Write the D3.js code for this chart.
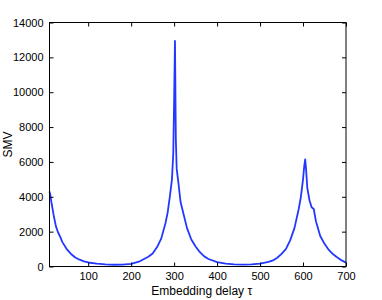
<!DOCTYPE html>
<html>
<head>
<meta charset="utf-8">
<script src="https://cdn.jsdelivr.net/npm/d3@7"></script>
<style>
  body { margin: 0; background: #fff; }
  text { font-family: "Liberation Sans", Arial, sans-serif; }
</style>
</head>
<body>
<script>
// embedding delay values (tau) and the SMV read at each one
var tau = [10, 12, 15, 20, 25, 30, 35, 40, 50, 60, 70, 80, 90, 100, 120, 140, 160, 180, 200,
    220, 240, 250, 260, 270, 280, 285, 290, 295, 298, 300, 302, 304, 306, 310, 315, 320, 330,
    340, 350, 360, 370, 380, 400, 420, 440, 460, 480, 500, 520, 530, 540, 550, 560, 570, 580,
    590, 595, 600, 603, 605, 607, 610, 615, 620, 625, 630, 640, 650, 660, 670, 680, 690, 700]
var smv = [4300, 4100, 3600, 2900, 2300, 1950, 1700, 1400, 1000, 720, 520, 390, 290, 230, 160, 120, 100, 110, 150,
    300, 560, 750, 1100, 1600, 2500, 3100, 4000, 5000, 6500, 9500, 12950, 7300, 5600, 4800, 3700, 3200, 2200,
    1550, 1150, 820, 580, 430, 250, 160, 120, 110, 120, 160, 260, 350, 500, 720, 1000, 1500, 2200,
    3300, 4000, 5000, 5800, 6150, 5600, 4500, 3800, 3400, 3300, 2600, 1750, 1300, 950, 700, 520, 350, 220]

var xTicks = [100, 200, 300, 400, 500, 600, 700]
var yTicks = [0, 2000, 4000, 6000, 8000, 10000, 12000, 14000]

var width = 382,
    height = 300
var margin = {left: 49.5, right: 36, top: 22.5, bottom: 33.5}

var svg = d3.select("body").append("svg")
    .attr("width", width)
    .attr("height", height)

var x = d3.scaleLinear().domain([10, 700]).range([margin.left, width - margin.right])
var y = d3.scaleLinear().domain([0, 14000]).range([height - margin.bottom, margin.top])

var data = tau.map(function (t, i) { return [t, smv[i]] })

// the curve
svg.append("path")
    .datum(data)
    .attr("fill", "none")
    .attr("stroke", "#2338ff")
    .attr("stroke-width", 1.8)
    .attr("stroke-linejoin", "round")
    .attr("d", d3.line().x(d => x(d[0])).y(d => y(d[1])))

// matlab style box with ticks pointing in on all four sides
var tl = 4
function style(g) {
    g.select(".domain").remove()
    g.selectAll("line").attr("stroke", "#000")
    g.selectAll("text").attr("fill", "#000").style("font-size", "11px")
}

svg.append("g")
    .attr("transform", "translate(0," + y(0) + ")")
    .call(d3.axisBottom(x).tickValues(xTicks).tickSizeInner(-tl).tickSizeOuter(0).tickPadding(6).tickFormat(d3.format("d")))
    .call(style)
svg.append("g")
    .attr("transform", "translate(0," + y(14000) + ")")
    .call(d3.axisTop(x).tickValues(xTicks).tickSizeInner(-tl).tickSizeOuter(0).tickFormat(""))
    .call(style)
svg.append("g")
    .attr("transform", "translate(" + x(10) + ",0)")
    .call(d3.axisLeft(y).tickValues(yTicks).tickSizeInner(-tl).tickSizeOuter(0).tickPadding(6).tickFormat(d3.format("d")))
    .call(style)
svg.append("g")
    .attr("transform", "translate(" + x(700) + ",0)")
    .call(d3.axisRight(y).tickValues(yTicks).tickSizeInner(-tl).tickSizeOuter(0).tickFormat(""))
    .call(style)

svg.append("rect")
    .attr("x", x(10))
    .attr("y", y(14000))
    .attr("width", x(700) - x(10))
    .attr("height", y(0) - y(14000))
    .attr("fill", "none")
    .attr("stroke", "#000")
    .attr("stroke-width", 1)

// labels
svg.append("text")
    .attr("x", (x(10) + x(700)) / 2 + 4)
    .attr("y", 295)
    .attr("text-anchor", "middle")
    .style("font-size", "12px")
    .text("Embedding delay τ")

svg.append("text")
    .attr("transform", "translate(12," + (y(0) + y(14000)) / 2 + ") rotate(-90)")
    .attr("text-anchor", "middle")
    .style("font-size", "12px")
    .text("SMV")
</script>
</body>
</html>
